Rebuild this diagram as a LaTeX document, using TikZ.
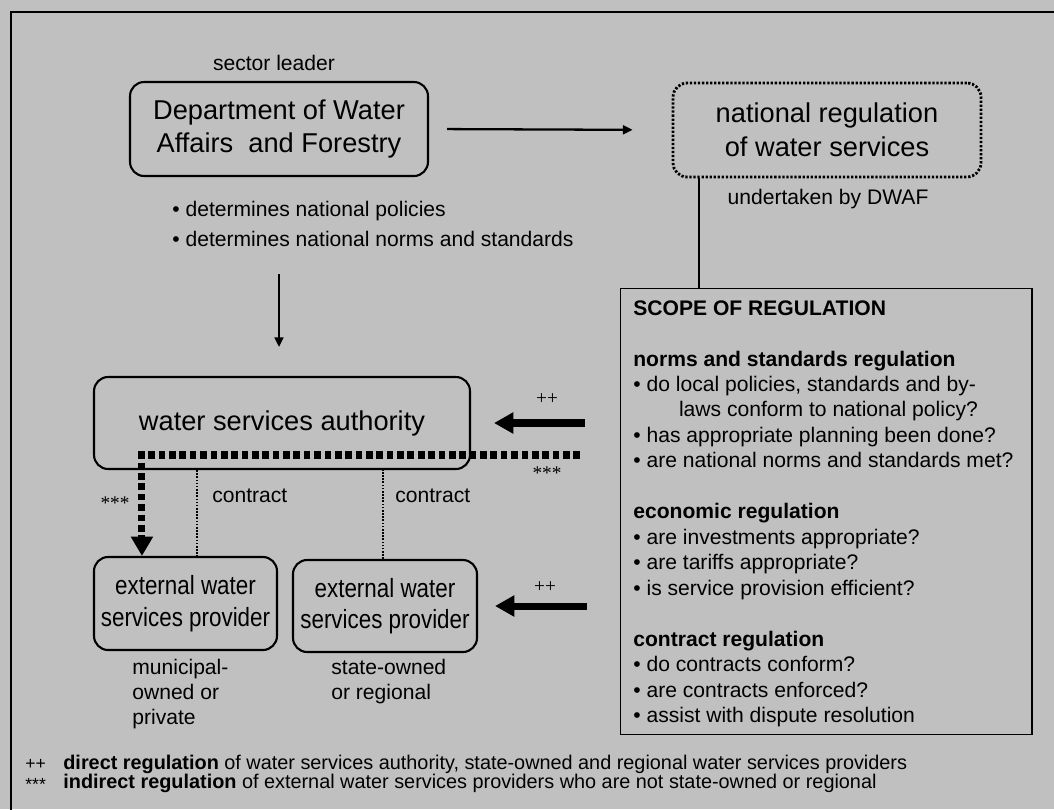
\documentclass[tikz,border=0pt]{standalone}
\usepackage{fontspec}
\setmainfont{Liberation Sans}
\newfontfamily\narrowfont[FakeStretch=0.85]{Liberation Sans}
\newfontfamily\starfont{Liberation Serif}
\usetikzlibrary{arrows.meta}
\definecolor{panel}{HTML}{C0C0C0}

\begin{document}
\begin{tikzpicture}[x=0.02cm, y=-0.02cm,
box/.style={draw, line width=1.2pt, rounded corners=8pt, align=center, inner sep=0pt},
big/.style={font=\fontsize{15.5}{19.3}\selectfont},
ext/.style={font=\narrowfont\fontsize{15}{18}\selectfont},
small/.style={font=\fontsize{12}{17}\selectfont},
stars/.style={font=\starfont\fontsize{11}{11}\selectfont},
arr/.style={line width=1.3pt, -{Triangle[length=5.5pt,width=5pt]}},
fat/.style={line width=4pt, -{Triangle[length=11pt,width=11.5pt]}},
dotfat/.style={line width=4pt, dash pattern=on 3.8pt off 2.1pt, -{Triangle[length=11pt,width=12pt]}},
contractline/.style={line width=0.9pt, dash pattern=on 0.9pt off 0.9pt}]

\useasboundingbox (0,0) rectangle (1054,809);
\fill[panel] (0,0) rectangle (1054,809);
\draw[line width=1.1pt] (1060,12) -- (11,12) -- (11,815);

\node[box, big, minimum width=5.96cm, minimum height=1.88cm] (dwaf) at (279,129) {Department of Water\\Affairs \ and Forestry};
\node[small] (leader) at (274,63) {sector leader};
\node[anchor=west, align=left, inner sep=0pt, small] (notes) at (172,224) {\textbullet\ determines national policies\\\textbullet\ determines national norms and standards};

\node[box, big, line width=1.6pt, dash pattern=on 1.3pt off 1pt, minimum width=6.16cm, minimum height=1.88cm] (natreg) at (827,130) {national regulation\\of water services};
\node[small] (bydwaf) at (828,199) {undertaken by DWAF};

\node[draw, line width=0.6pt, minimum width=8.24cm, minimum height=8.94cm, inner sep=0pt] (scope) at (826,511.5) {};
\node[anchor=north west, align=left, inner sep=0pt, font=\fontsize{12}{14.5}\selectfont] (scopetxt) at (633,300) {\textbf{SCOPE OF REGULATION}\\[14.5pt]
\textbf{norms and standards regulation}\\
\textbullet\ do local policies, standards and by-\\
\hspace*{26pt}laws conform to national policy?\\
\textbullet\ has appropriate planning been done?\\
\textbullet\ are national norms and standards met?\\[14.5pt]
\textbf{economic regulation}\\
\textbullet\ are investments appropriate?\\
\textbullet\ are tariffs appropriate?\\
\textbullet\ is service provision efficient?\\[14.5pt]
\textbf{contract regulation}\\
\textbullet\ do contracts conform?\\
\textbullet\ are contracts enforced?\\
\textbullet\ assist with dispute resolution};

\node[box, big, minimum width=7.52cm, minimum height=1.84cm] (wsa) at (282,423) {water services authority};
\node[box, ext, minimum width=3.66cm, minimum height=1.86cm] (ext1) at (185.5,603.5) {external water\\services provider};
\node[box, ext, minimum width=3.68cm, minimum height=1.84cm] (ext2) at (385,606) {external water\\services provider};
\node[anchor=west, align=left, inner sep=0pt, font=\fontsize{12}{14.2}\selectfont] (own1) at (132,694) {municipal-\\owned or\\private};
\node[anchor=west, align=left, inner sep=0pt, font=\fontsize{12}{14.2}\selectfont] (own2) at (331,681.5) {state-owned\\or regional};

\draw[arr, shorten <=1.94cm, shorten >=0.58cm] (dwaf.south) -- (dwaf.south |- wsa.north);
\draw[arr, shorten <=0.36cm, shorten >=0.78cm] (dwaf.east) -- (natreg.west);
\draw[line width=1pt] ([xshift=0.54cm]natreg.south west) -- ([xshift=0.54cm]natreg.south west |- scope.north);

\draw[fat, shorten <=0.7cm, shorten >=0.46cm] (scope.west |- wsa.east) -- (wsa.east);
\draw[fat, shorten <=0.66cm, shorten >=0.34cm] (scope.west |- ext2.east) -- (ext2.east);
\node[stars] (dir1) at (547,399) {++};
\node[stars] (dir2) at (545,587) {++};

\coordinate (indirect) at (580,455);
\draw[dotfat] (indirect) -| ([xshift=0.98cm]ext1.north west);
\node[stars] (ind1) at (115,503) {***};
\node[stars] (ind2) at (547,473) {***};

\draw[contractline] ([xshift=2.08cm]wsa.south west) -- ([xshift=2.08cm]wsa.south west |- ext1.north);
\draw[contractline] ([xshift=-0.04cm]ext2.north) -- ([xshift=-0.04cm]ext2.north |- wsa.south);
\node[small, anchor=west, inner sep=0pt] (con1) at (212,496) {contract};
\node[small, anchor=west, inner sep=0pt] (con2) at (395,496) {contract};

\node[anchor=base west, inner sep=0pt, font=\fontsize{10}{10}\selectfont] (key1) at (25,769) {++};
\node[anchor=base west, inner sep=0pt, font=\fontsize{10}{10}\selectfont] (key2) at (25,790) {***};
\node[anchor=base west, inner sep=0pt, font=\fontsize{11.3}{11.3}\selectfont] (key1txt) at (63,769) {\textbf{direct regulation} of water services authority, state-owned and regional water services providers};
\node[anchor=base west, inner sep=0pt, font=\fontsize{11.3}{11.3}\selectfont] (key2txt) at (63,788) {\textbf{indirect regulation} of external water services providers who are not state-owned or regional};

\end{tikzpicture}
\end{document}
